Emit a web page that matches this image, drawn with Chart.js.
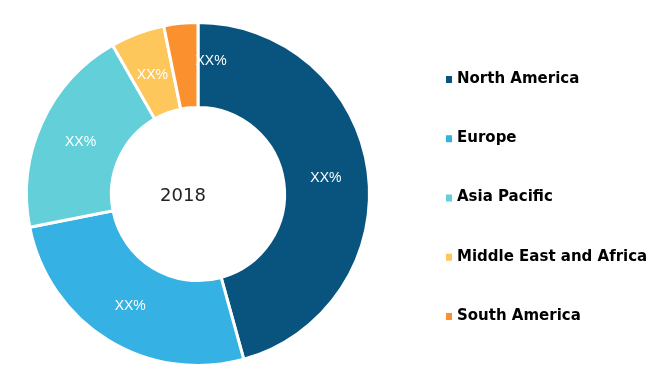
<!DOCTYPE html>
<html>
<head>
<meta charset="utf-8">
<script src="https://cdn.jsdelivr.net/npm/chart.js@4.4.0/dist/chart.umd.min.js"></script>
<style>
  html, body { margin: 0; padding: 0; background: #fff; }
  #wrap { width: 652px; height: 370px; }
</style>
</head>
<body>
<div id="wrap"><canvas id="regionChart" width="652" height="370"></canvas></div>
<script>
// datos del grafico
const regiones = ["North America", "Europe", "Asia Pacific", "Middle East and Africa", "South America"];
const cuotas = [45.7, 26.2, 19.8, 5.1, 3.2];
const etiquetas = ["XX%", "XX%", "XX%", "XX%", "XX%"];
const colores = ["#08547f", "#35b1e3", "#63cfd8", "#fec75c", "#fb912e"];
const anio = "2018";

// la etiqueta de la porcion pequena va desplazada a la derecha
const desplazamientos = [[0, 2], [0, 2], [0, 2], [0, 2], [26, -4]];

const etiquetasPlugin = {
    id: "etiquetas",
    afterDatasetsDraw(chart) {
        const ctx = chart.ctx;
        const meta = chart.getDatasetMeta(0);
        ctx.save();
        ctx.font = "14px 'Liberation Sans', Arial, sans-serif";
        ctx.fillStyle = "#ffffff";
        ctx.textAlign = "center";
        ctx.textBaseline = "middle";
        meta.data.forEach((arc, i) => {
            const p = arc.tooltipPosition();
            const d = desplazamientos[i];
            ctx.fillText(etiquetas[i], p.x + d[0], p.y + d[1]);
        });

        // texto central
        ctx.font = "18px 'DejaVu Sans', sans-serif";
        ctx.fillStyle = "#222222";
        ctx.fillText(anio, meta.data[0].x - 15, meta.data[0].y + 2);
        ctx.restore();
    }
};

const leyendaPlugin = {
    id: "leyenda",
    afterDraw(chart) {
        const ctx = chart.ctx;
        ctx.save();
        ctx.font = "bold 15px 'DejaVu Sans', sans-serif";
        ctx.textBaseline = "middle";
        ctx.textAlign = "left";
        chart.data.labels.forEach((lab, i) => {
            const y = 79 + i * 59.25;
            ctx.fillStyle = chart.data.datasets[0].backgroundColor[i];
            ctx.fillRect(446, y - 3, 6, 7);
            ctx.fillStyle = "#000000";
            ctx.fillText(lab, 457, y);
        });
        ctx.restore();
    }
};

const ctx = document.getElementById("regionChart").getContext("2d");

new Chart(ctx, {
    type: "doughnut",
    data: {
        labels: regiones,
        datasets: [{
            data: cuotas,
            backgroundColor: colores,
            borderColor: "#ffffff",
            borderWidth: 3
        }]
    },
    options: {
        responsive: false,
        animation: false,
        cutout: "50.5%",
        layout: {
            padding: { left: 25, right: 281, top: 21, bottom: 3 }
        },
        plugins: {
            legend: { display: false },
            tooltip: { enabled: false }
        }
    },
    plugins: [etiquetasPlugin, leyendaPlugin]
});
</script>
</body>
</html>
